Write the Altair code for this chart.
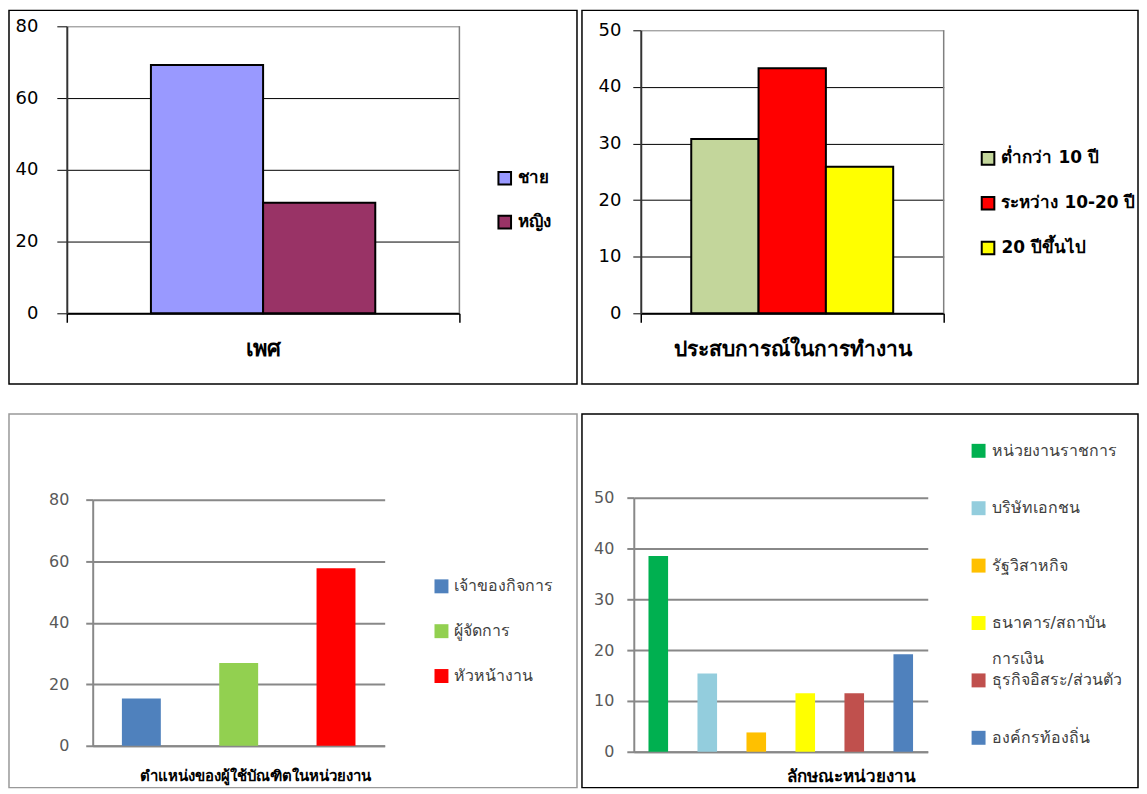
import altair as alt
import pandas as pd

FONT = "Tahoma, 'DejaVu Sans', 'Noto Sans', sans-serif"
BLANK = "\u2800"

# ---------------- data ----------------
sex_group = "เพศ"
sex_cats = ["ชาย", "หญิง"]
sex_vals = [69.2, 30.8]
sex_colors = ["#9999FF", "#993366"]
sex_ticks = [0, 20, 40, 60, 80]

exp_group = "ประสบการณ์ในการทำงาน"
exp_cats = ["ต่ำกว่า 10 ปี", "ระหว่าง 10-20 ปี", "20 ปีขึ้นไป"]
exp_vals = [30.8, 43.3, 25.9]
exp_colors = ["#C3D69B", "#FF0000", "#FFFF00"]
exp_ticks = [0, 10, 20, 30, 40, 50]

pos_title = "ตำแหน่งของผู้ใช้บัณฑิตในหน่วยงาน"
pos_cats = ["เจ้าของกิจการ", "ผู้จัดการ", "หัวหน้างาน"]
pos_vals = [15.4, 26.9, 57.7]
pos_colors = ["#4F81BD", "#92D050", "#FF0000"]
pos_ticks = [0, 20, 40, 60, 80]

org_title = "ลักษณะหน่วยงาน"
org_cats = ["หน่วยงานราชการ", "บริษัทเอกชน", "รัฐวิสาหกิจ",
            "ธนาคาร/สถาบันการเงิน", "ธุรกิจอิสระ/ส่วนตัว", "องค์กรท้องถิ่น"]
org_vals = [38.5, 15.4, 3.8, 11.5, 11.5, 19.2]
org_colors = ["#00B050", "#93CDDD", "#FFC000", "#FFFF00", "#C0504D", "#4F81BD"]
org_ticks = [0, 10, 20, 30, 40, 50]


def classic_panel(group, cats, vals, colors, ticks, W, H, xr, yr,
                  ytick, ypad, xlab_size, leg_x, leg_y, leg_pad):
    df = pd.DataFrame({"group": [group] * len(cats), "cat": cats, "val": vals})
    ymax = ticks[-1]
    yscale = alt.Scale(domain=[0, ymax], range=yr, nice=False)
    xscale = alt.Scale(domain=[group], range=xr, paddingInner=0, paddingOuter=0)
    x_axis = alt.Axis(
        title=None, tickBand="extent", grid=False,
        ticks=True, tickColor="black", tickSize=9, tickWidth=1.5,
        domainColor="black", domainWidth=2, labelAngle=0,
        labelFont=FONT, labelFontSize=xlab_size, labelFontWeight="bold",
        labelColor="black", labelPadding=16, labelLimit=600,
        offset=-(H - yr[0]),
    )
    y = alt.Y(
        "val:Q",
        scale=yscale,
        axis=alt.Axis(
            title=None, values=ticks, offset=-xr[0], tickSize=ytick,
            tickColor="black", tickWidth=1, domainColor="#333333", domainWidth=2,
            gridColor={"condition": {"test": f"datum.value == {ymax}", "value": "#808080"},
                       "value": "black"},
            gridWidth=1, labelFont=FONT, labelFontSize=18, labelColor="black",
            labelPadding=ypad,
        ),
    )
    bars = alt.Chart(df).mark_bar(stroke="black", strokeWidth=2).encode(
        x=alt.X("group:N", scale=xscale, axis=x_axis),
        xOffset=alt.XOffset("cat:N", sort=cats,
                            scale=alt.Scale(domain=cats, paddingInner=0, paddingOuter=0.75)),
        y=y,
        color=alt.Color(
            "cat:N", sort=cats, scale=alt.Scale(domain=cats, range=colors),
            legend=alt.Legend(
                orient="none", legendX=leg_x, legendY=leg_y, title=None,
                symbolType="square", symbolSize=160, symbolStrokeColor="black",
                symbolStrokeWidth=2, symbolOpacity=1, labelFont=FONT,
                labelFontSize=17, labelFontWeight="bold", labelColor="black",
                rowPadding=leg_pad, padding=0, labelOffset=5, labelLimit=300,
            ),
        ),
    )
    # grey right edge of the plot area, at the far end of the category band
    frame_df = pd.DataFrame({"group": [group], "lo": [ticks[0]], "hi": [ymax]})
    frame = alt.Chart(frame_df).mark_rule(color="#808080", strokeWidth=1.5).encode(
        x=alt.X("group:N", bandPosition=1, scale=xscale, axis=x_axis),
        y=alt.Y("lo:Q", scale=yscale),
        y2="hi:Q",
    )
    return alt.layer(bars, frame).properties(
        width=W, height=H,
        view=alt.ViewBackground(stroke="black", strokeWidth=1.5),
    )


def modern_panel(title, cats, vals, colors, ticks, W, H, xr, yr, ypad,
                 title_x, title_y, title_size, leg_x, leg_y, leg_pad, stroke,
                 label_expr):
    df = pd.DataFrame({"cat": cats, "val": vals})
    ymax = ticks[-1]
    x = alt.X(
        "cat:N", sort=cats,
        scale=alt.Scale(domain=cats, range=xr, paddingInner=0.6, paddingOuter=0.3),
        axis=alt.Axis(
            labels=False, ticks=False, domainColor="#888888", domainWidth=2,
            title=title, titleFont=FONT, titleFontSize=title_size,
            titleFontWeight="bold", titleColor="black", titleX=title_x,
            titleY=title_y, titleBaseline="middle", titleAlign="center",
            titleLimit=600, offset=-(H - yr[0]),
        ),
    )
    y = alt.Y(
        "val:Q",
        scale=alt.Scale(domain=[0, ymax], range=yr, nice=False),
        axis=alt.Axis(
            title=None, values=ticks, offset=-xr[0], tickSize=7,
            tickColor="#888888", tickWidth=2, domainColor="#888888", domainWidth=2,
            gridColor="#888888", gridWidth=2, labelFont=FONT, labelFontSize=16,
            labelColor="#595959", labelPadding=ypad,
        ),
    )
    legend_kw = dict(
        orient="none", legendX=leg_x, legendY=leg_y, title=None,
        symbolType="square", symbolSize=196, symbolStrokeWidth=0,
        symbolOpacity=1, labelFont=FONT, labelFontSize=16,
        labelColor="#404040", rowPadding=leg_pad, padding=0,
        labelOffset=5, labelLimit=300,
    )
    if label_expr:
        legend_kw["labelExpr"] = label_expr
    bars = alt.Chart(df).mark_bar().encode(
        x=x,
        y=y,
        color=alt.Color(
            "cat:N", sort=cats, scale=alt.Scale(domain=cats, range=colors),
            legend=alt.Legend(**legend_kw),
        ),
    )
    return bars.properties(
        width=W, height=H,
        view=alt.ViewBackground(stroke=stroke, strokeWidth=1.5),
    )


org_label_expr = (
    "datum.label == 'ธนาคาร/สถาบันการเงิน' ? ['ธนาคาร/สถาบัน', '" + BLANK + "', 'การเงิน']"
    " : [datum.label, '" + BLANK + "', '" + BLANK + "']"
)

p1 = classic_panel(sex_group, sex_cats, sex_vals, sex_colors, sex_ticks,
                   570, 375, [58, 452], [304, 16], 10, 19, 22, 489, 160, 23)
p2 = classic_panel(exp_group, exp_cats, exp_vals, exp_colors, exp_ticks,
                   558, 375, [59, 363], [304, 20], 8, 12, 21, 399, 140, 24)
p3 = modern_panel(pos_title, pos_cats, pos_vals, pos_colors, pos_ticks,
                  570, 375, [84, 377], [333, 86], 17, 247, 30, 15,
                  426, 165, 29, "#999999", None)
p4 = modern_panel(org_title, org_cats, org_vals, org_colors, org_ticks,
                  558, 375, [52, 347], [339, 84], 13, 270, 25, 17,
                  390, 29, 5.6, "black", org_label_expr)

top = alt.hconcat(p1, p2, spacing=3).resolve_scale(color="independent", xOffset="independent")
bottom = alt.hconcat(p3, p4, spacing=3).resolve_scale(color="independent")
chart = alt.vconcat(top, bottom, spacing=28).resolve_scale(
    color="independent", xOffset="independent"
).properties(padding=0).configure_view(strokeWidth=1.5)

chart.save("out.html", embed_options={"renderer": "svg", "actions": False})
